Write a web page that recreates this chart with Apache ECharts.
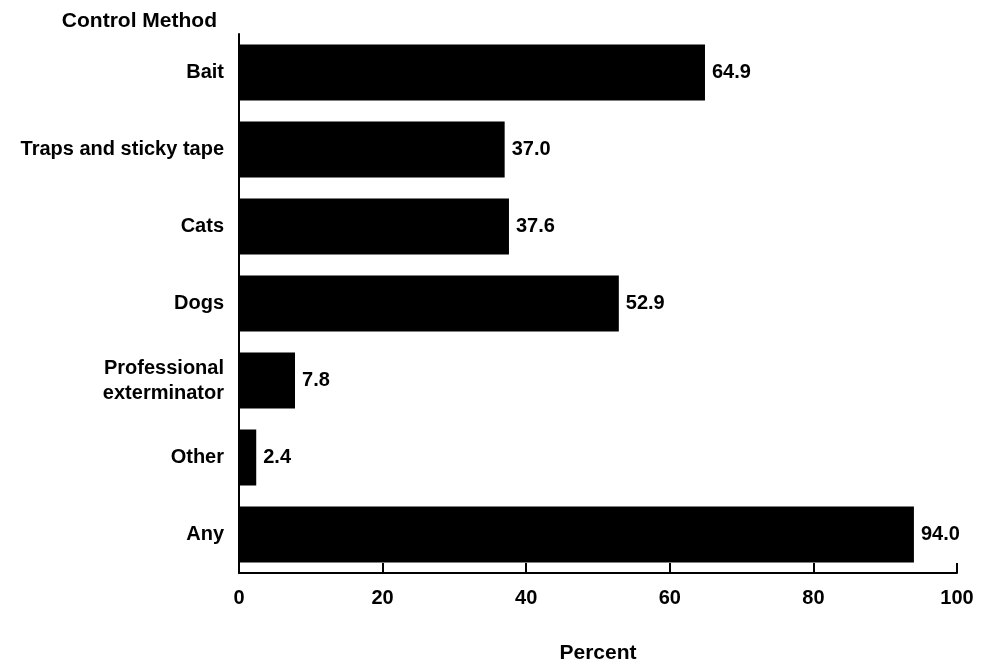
<!DOCTYPE html>
<html><head><meta charset="utf-8">
<script src="https://cdn.jsdelivr.net/npm/echarts@6/dist/echarts.min.js"></script>
<style>html,body{margin:0;padding:0;background:#fff}#c{width:989px;height:663px}</style>
</head><body><div id="c"></div>
<script>
var categories = ["Bait", "Traps and sticky tape", "Cats", "Dogs", "Professional\nexterminator", "Other", "Any"];
var values = [64.9, 37.0, 37.6, 52.9, 7.8, 2.4, 94.0];
var xTicks = [0, 20, 40, 60, 80, 100];

var FONT = "Liberation Sans, Arial, sans-serif";
var chart = echarts.init(document.getElementById('c'));
chart.setOption({
  animation: false,
  backgroundColor: '#fff',
  title: {
    text: 'Control Method', right: 767, top: 6,
    textStyle: {fontFamily: FONT, fontSize: 21, fontWeight: 'bold', color: '#000'}
  },
  grid: {left: 239, right: 32, top: 34, bottom: 90, containLabel: false, outerBoundsMode: 'none'},
  xAxis: {
    type: 'value', min: xTicks[0], max: xTicks[xTicks.length - 1], interval: 20,
    name: 'Percent', nameLocation: 'middle', nameGap: 70,
    nameTextStyle: {fontFamily: FONT, fontSize: 21, fontWeight: 'bold', color: '#000'},
    axisLine: {show: true, lineStyle: {color: '#000', width: 2}},
    axisTick: {show: true, inside: true, length: 10, lineStyle: {color: '#000', width: 2}},
    axisLabel: {fontFamily: FONT, fontSize: 20, fontWeight: 'bold', color: '#000', margin: 15},
    splitLine: {show: false}
  },
  yAxis: {
    type: 'category', data: categories, inverse: true,
    axisLine: {show: true, lineStyle: {color: '#000', width: 2}},
    axisTick: {show: false},
    axisLabel: {fontFamily: FONT, fontSize: 20, fontWeight: 'bold', color: '#000', margin: 15, align: 'right', lineHeight: 25}
  },
  series: [{
    type: 'bar', data: values, barWidth: 56,
    itemStyle: {color: '#000'},
    label: {show: true, position: 'right', distance: 7, fontFamily: FONT, fontSize: 20, fontWeight: 'bold', color: '#000',
      formatter: function(p){ return p.value.toFixed(1); }}
  }]
});
</script></body></html>
